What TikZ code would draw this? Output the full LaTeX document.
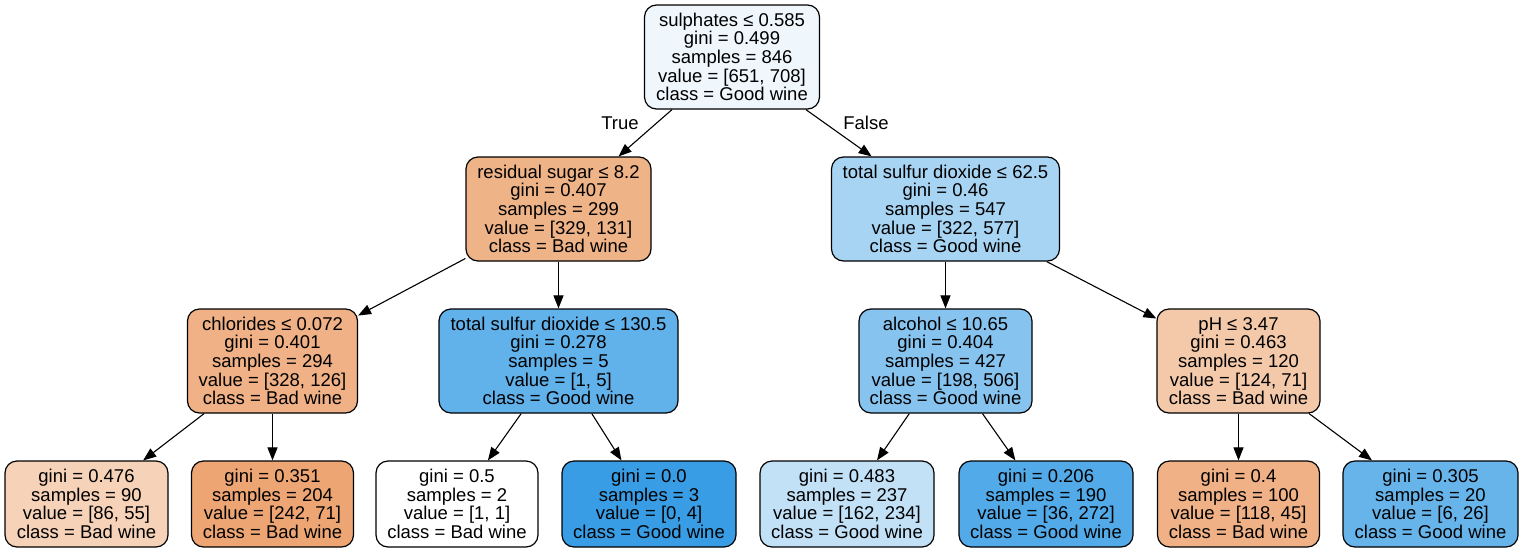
\documentclass[tikz,border=0pt]{standalone}
\usepackage{fontspec}
\setmainfont{Liberation Sans}
\usetikzlibrary{arrows.meta}
\definecolor{cRoot}{RGB}{239,247,253}
\definecolor{cRS}{RGB}{239,179,136}
\definecolor{cTA}{RGB}{168,212,244}
\definecolor{cCH}{RGB}{239,177,133}
\definecolor{cTB}{RGB}{97,177,234}
\definecolor{cAL}{RGB}{135,195,239}
\definecolor{cPH}{RGB}{244,201,170}
\definecolor{cLa}{RGB}{246,210,184}
\definecolor{cLb}{RGB}{237,166,115}
\definecolor{cLc}{RGB}{255,255,255}
\definecolor{cLd}{RGB}{57,157,229}
\definecolor{cLe}{RGB}{194,225,247}
\definecolor{cLf}{RGB}{83,170,232}
\definecolor{cLg}{RGB}{239,177,133}
\definecolor{cLh}{RGB}{103,180,235}
\begin{document}
\begin{tikzpicture}[x=1pt,y=-1pt,
  tn/.style={draw=black, line width=1.2pt, rounded corners=12pt, align=center,
    inner sep=0pt, font=\fontsize{18.5}{18.67}\selectfont, minimum height=104pt},
  lf/.style={tn, minimum height=86pt},
  edge/.style={draw=black, line width=1.1pt, -{Triangle[length=13pt,width=10pt]}},
  lbl/.style={font=\fontsize{18.5}{18.67}\selectfont}]
\useasboundingbox (0,0) rectangle (1523,552);
\fill[white] (0,0) rectangle (1523,552);
\node[tn, fill=cRoot, minimum width=175pt] (root) at (732,57)
  {sulphates ≤ 0.585\\gini = 0.499\\samples = 846\\value = [651, 708]\\class = Good wine};
\node[tn, fill=cRS, minimum width=185pt] (rs) at (558.5,209)
  {residual sugar ≤ 8.2\\gini = 0.407\\samples = 299\\value = [329, 131]\\class = Bad wine};
\node[tn, fill=cTA, minimum width=228pt] (ta) at (945.5,209)
  {total sulfur dioxide ≤ 62.5\\gini = 0.46\\samples = 547\\value = [322, 577]\\class = Good wine};
\node[tn, fill=cCH, minimum width=170pt] (ch) at (272.5,361)
  {chlorides ≤ 0.072\\gini = 0.401\\samples = 294\\value = [328, 126]\\class = Bad wine};
\node[tn, fill=cTB, minimum width=239pt] (tb) at (558.5,361)
  {total sulfur dioxide ≤ 130.5\\gini = 0.278\\samples = 5\\value = [1, 5]\\class = Good wine};
\node[tn, fill=cAL, minimum width=173pt] (al) at (945.5,361)
  {alcohol ≤ 10.65\\gini = 0.404\\samples = 427\\value = [198, 506]\\class = Good wine};
\node[tn, fill=cPH, minimum width=163pt] (ph) at (1238.5,361)
  {pH ≤ 3.47\\gini = 0.463\\samples = 120\\value = [124, 71]\\class = Bad wine};
\node[lf, fill=cLa, minimum width=163pt] (la) at (86.5,504)
  {gini = 0.476\\samples = 90\\value = [86, 55]\\class = Bad wine};
\node[lf, fill=cLb, minimum width=162pt] (lb) at (272.5,504)
  {gini = 0.351\\samples = 204\\value = [242, 71]\\class = Bad wine};
\node[lf, fill=cLc, minimum width=162pt] (lc) at (457,504)
  {gini = 0.5\\samples = 2\\value = [1, 1]\\class = Bad wine};
\node[lf, fill=cLd, minimum width=174pt] (ld) at (649,504)
  {gini = 0.0\\samples = 3\\value = [0, 4]\\class = Good wine};
\node[lf, fill=cLe, minimum width=174pt] (le) at (847,504)
  {gini = 0.483\\samples = 237\\value = [162, 234]\\class = Good wine};
\node[lf, fill=cLf, minimum width=174pt] (lf) at (1046,504)
  {gini = 0.206\\samples = 190\\value = [36, 272]\\class = Good wine};
\node[lf, fill=cLg, minimum width=162pt] (lg) at (1238.5,504)
  {gini = 0.4\\samples = 100\\value = [118, 45]\\class = Bad wine};
\node[lf, fill=cLh, minimum width=175pt] (lh) at (1430.5,504)
  {gini = 0.305\\samples = 20\\value = [6, 26]\\class = Good wine};
\draw[edge] (root) -- (rs);
\draw[edge] (root) -- (ta);
\draw[edge] (rs) -- (ch);
\draw[edge] (rs) -- (tb);
\draw[edge] (ta) -- (al);
\draw[edge] (ta) -- (ph);
\draw[edge] (ch) -- (la);
\draw[edge] (ch) -- (lb);
\draw[edge] (tb) -- (lc);
\draw[edge] (tb) -- (ld);
\draw[edge] (al) -- (le);
\draw[edge] (al) -- (lf);
\draw[edge] (ph) -- (lg);
\draw[edge] (ph) -- (lh);
\node[lbl] (t) at (620,123) {True};
\node[lbl] (f) at (866,123) {False};
\end{tikzpicture}
\end{document}
